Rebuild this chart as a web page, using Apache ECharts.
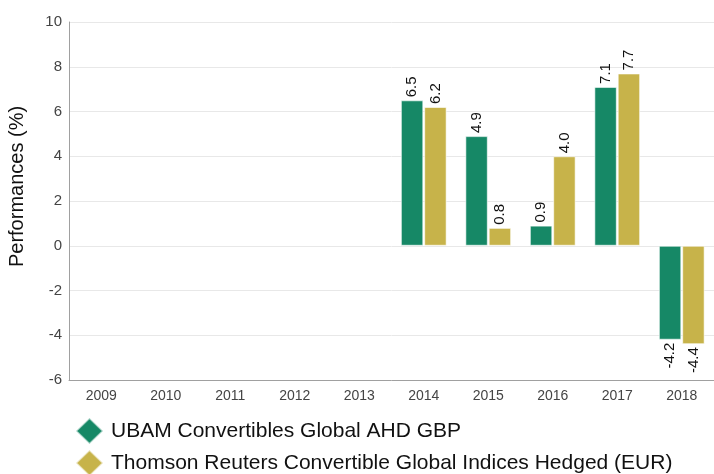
<!DOCTYPE html>
<html>
<head>
<meta charset="utf-8">
<script src="https://cdn.jsdelivr.net/npm/echarts@6/dist/echarts.min.js"></script>
<style>
  html, body { margin: 0; padding: 0; background: #fff; }
  #chart { width: 714px; height: 474px; }
</style>
</head>
<body>
<div id="chart"></div>
<script>
// 年份
const years = ['2009', '2010', '2011', '2012', '2013', '2014', '2015', '2016', '2017', '2018']
// 基金表现
const fundValues = [null, null, null, null, null, 6.5, 4.9, 0.9, 7.1, -4.2]
// 基准指数表现
const indexValues = [null, null, null, null, null, 6.2, 0.8, 4.0, 7.7, -4.4]
const seriesNames = ['UBAM Convertibles Global AHD GBP', 'Thomson Reuters Convertible Global Indices Hedged (EUR)']
const colors = ['#168866', '#c7b34a']

// 正负值的标签放在柱子两端
function toItems (values) {
  return values.map(v => {
    if (v === null) return null
    const neg = v < 0
    return {
      value: v,
      label: {
        position: neg ? 'bottom' : 'top',
        align: neg ? 'right' : 'left'
      }
    }
  })
}

const chart = echarts.init(document.getElementById('chart'))
const font = 'Liberation Sans, Arial, sans-serif'

const series = [fundValues, indexValues].map((vals, i) => ({
  name: seriesNames[i],
  type: 'bar',
  data: toItems(vals),
  barGap: '4%',
  barCategoryGap: '29%',
  itemStyle: {
    color: colors[i],
    borderColor: 'rgba(255,255,255,0.6)',
    borderWidth: 1
  },
  label: {
    show: true,
    rotate: 90,
    verticalAlign: 'middle',
    distance: 3,
    color: '#111',
    fontSize: 15,
    fontFamily: font,
    formatter: p => p.value.toFixed(1)
  }
}))

chart.setOption({
  animation: false,
  color: colors,
  grid: { left: 69, right: 0, top: 22, bottom: 94, containLabel: false, outerBoundsMode: 'none' },
  legend: {
    orient: 'vertical',
    left: 75,
    top: 417,
    height: 90,
    padding: 0,
    icon: 'diamond',
    itemWidth: 27,
    itemHeight: 26,
    itemGap: 4,
    textStyle: { fontSize: 21, color: '#111', fontFamily: font, padding: [0, 0, 0, 3] },
    data: seriesNames
  },
  xAxis: {
    type: 'category',
    data: years,
    axisLine: { onZero: false, lineStyle: { color: '#a0a0a0' } },
    axisTick: { show: false },
    axisLabel: { color: '#444', fontSize: 14, fontFamily: font, margin: 9 },
    splitLine: { show: false }
  },
  yAxis: {
    type: 'value',
    min: -6,
    max: 10,
    interval: 2,
    name: 'Performances (%)',
    nameLocation: 'middle',
    nameGap: 42,
    nameTextStyle: { fontSize: 20, color: '#111', fontFamily: font, padding: [0, 0, 0, 29] },
    axisLine: { show: true, lineStyle: { color: '#a0a0a0' } },
    axisTick: { show: false },
    axisLabel: { color: '#444', fontSize: 15, fontFamily: font, margin: 7 },
    splitLine: { lineStyle: { color: '#e8e8e8' } }
  },
  series: series
})
</script>
</body>
</html>
